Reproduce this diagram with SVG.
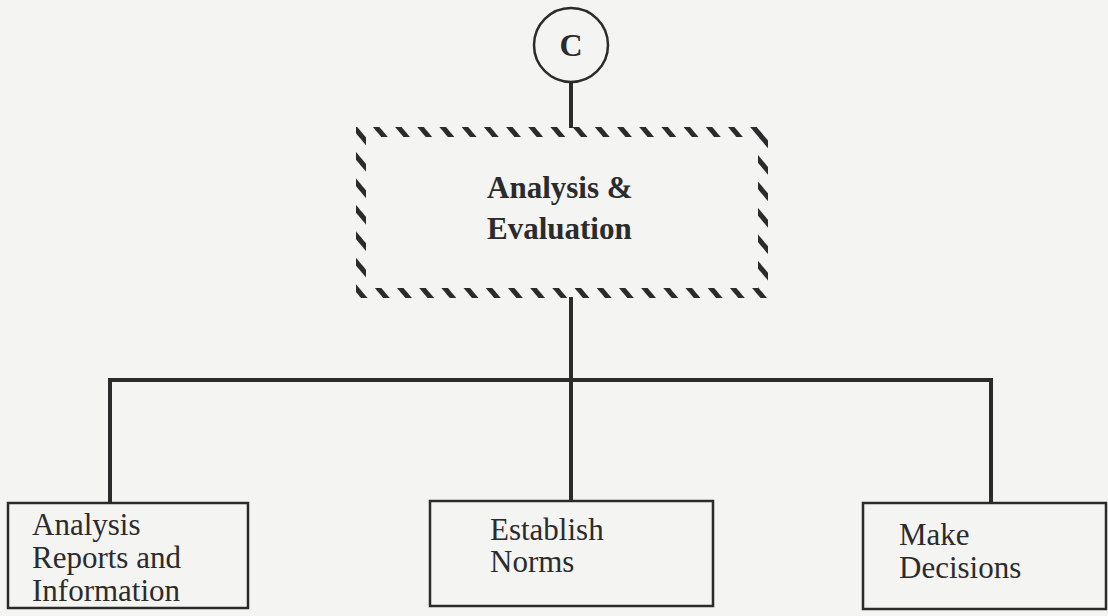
<svg xmlns="http://www.w3.org/2000/svg" width="1108" height="616" viewBox="0 0 1108 616">
<style>
.conn{stroke:#2b2b2b;stroke-width:4;fill:none}
.box{fill:none;stroke:#2b2b2b;stroke-width:2.5}
.lbl{font-family:"Liberation Serif","Times New Roman",serif;font-size:31px;fill:#2b2b2b}
.bold{font-family:"Liberation Serif","Times New Roman",serif;font-weight:bold;fill:#2b2b2b}
</style>
<defs>
<pattern id="hatch" patternUnits="userSpaceOnUse" width="17" height="17" patternTransform="rotate(-40)">
<rect x="0" y="0" width="5" height="17" fill="#2b2b2b"/>
</pattern>
</defs>
<rect width="1108" height="616" fill="#f4f4f2"/>
<g id="connectors">
<line class="conn" x1="571" y1="82" x2="571" y2="128"/>
<line class="conn" x1="571" y1="297" x2="571" y2="380"/>
<polyline class="conn" points="110,503 110,380 991,380 991,503"/>
<line class="conn" x1="571" y1="380" x2="571" y2="501"/>
</g>
<g id="nodeC">
<circle cx="571" cy="45" r="37" fill="none" stroke="#2b2b2b" stroke-width="2.5"/>
<text class="bold" x="571" y="56" font-size="32" text-anchor="middle">C</text>
</g>
<g id="analysisEvaluation">
<rect x="361" y="132" width="402" height="161" fill="none" stroke="url(#hatch)" stroke-width="10"/>
<text class="bold" x="487" y="198" font-size="31">Analysis &amp;</text>
<text class="bold" x="487" y="239" font-size="31">Evaluation</text>
</g>
<g id="analysisReports">
<rect class="box" x="8" y="503" width="240" height="105"/>
<text class="lbl" x="32" y="535">Analysis</text>
<text class="lbl" x="32" y="568">Reports and</text>
<text class="lbl" x="32" y="601">Information</text>
</g>
<g id="establishNorms">
<rect class="box" x="430" y="501" width="283" height="105"/>
<text class="lbl" x="490" y="540">Establish</text>
<text class="lbl" x="490" y="572">Norms</text>
</g>
<g id="makeDecisions">
<rect class="box" x="863" y="503" width="243" height="106"/>
<text class="lbl" x="899" y="545">Make</text>
<text class="lbl" x="899" y="578">Decisions</text>
</g>
</svg>
